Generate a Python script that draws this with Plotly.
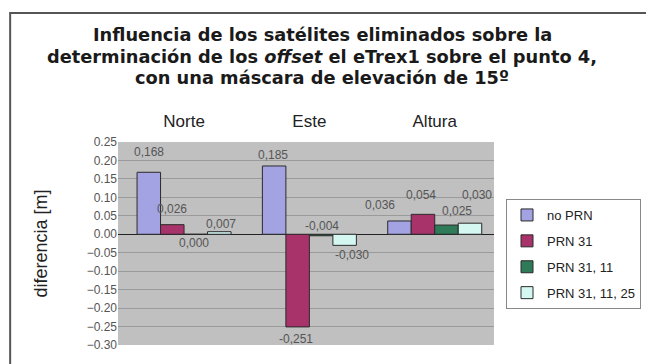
import plotly.graph_objects as go

categories = ["Norte", "Este", "Altura"]
series_names = ["no PRN", "PRN 31", "PRN 31, 11", "PRN 31, 11, 25"]
no_prn = [0.168, 0.185, 0.036]
prn31 = [0.026, -0.251, 0.054]
prn31_11 = [0.000, -0.004, 0.025]
prn31_11_25 = [0.007, -0.030, 0.030]
y_ticks = [0.25, 0.20, 0.15, 0.10, 0.05, 0.00, -0.05, -0.10, -0.15, -0.20, -0.25, -0.30]
title_lines = [
    "Influencia de los satélites eliminados sobre la",
    "determinación de los <i>offset</i> el eTrex1 sobre el punto 4,",
    "con una máscara de elevación de 15º",
]

series_values = [no_prn, prn31, prn31_11, prn31_11_25]
colors = ["#a3a3e3", "#a8336a", "#2f7a58", "#d4f7f2"]

# label placement styling (pixel offsets from bar end), per series x category
label_dx = [[0, -1, -19], [0, -2, -2], [-2, 1, 11], [2, 7, 7]]
label_dy = [[20, 11, 16], [16, -12, 19], [-9, 10, 14], [8, -10, 28]]

W, H = 646, 364
L, R, T, B = 118, 141, 142, 16
PW, PH = W - L - R, H - T - B
BARGAP = 0.25
NS = len(series_names)
BW = (1 - BARGAP) / NS


def px_x(x):
    return (x - L) / PW


def px_y(y):
    return (H - B - y) / PH


fig = go.Figure()
for i, (name, vals, col) in enumerate(zip(series_names, series_values, colors)):
    fig.add_trace(go.Bar(
        x=categories, y=vals, name=name, legendgroup=f"g{i}",
        marker=dict(color=col, line=dict(color="#2a2a2a", width=1)),
    ))
    for j, v in enumerate(vals):
        fig.add_annotation(
            x=j + (i - (NS - 1) / 2) * BW, y=v, xref="x", yref="y",
            text=f"{v:.3f}".replace(".", ","), showarrow=False,
            xanchor="center", yanchor="middle",
            xshift=label_dx[i][j], yshift=label_dy[i][j], borderpad=0,
            font=dict(family="Liberation Sans, Arial", size=12, color="#555555"),
        )

fig.update_layout(
    width=W, height=H,
    margin=dict(l=L, r=R, t=T, b=B),
    paper_bgcolor="white", plot_bgcolor="#c0c0c0",
    barmode="group", bargap=BARGAP, bargroupgap=0,
    font=dict(family="Liberation Sans, Arial", color="#222222"),
    xaxis=dict(side="top", showgrid=False, showline=False, ticks="",
               range=[-0.527, 2.473],
               ticklabelstandoff=11,
               tickfont=dict(size=17, color="#222222")),
    yaxis=dict(range=[-0.30, 0.25], tickvals=y_ticks, tickformat=".2f",
               showgrid=True, gridcolor="#9a9a9a", gridwidth=1,
               zeroline=True, zerolinecolor="#222222", zerolinewidth=1,
               tickfont=dict(size=12, color="#555555"),
               title=dict(text="diferencia [m]", font=dict(size=18, color="#222222"), standoff=34)),
    legend=dict(xref="container", yref="container", x=506 / W, y=1 - 199 / H,
                xanchor="left", yanchor="top",
                bordercolor="#888888", borderwidth=1, bgcolor="white",
                font=dict(size=13, color="#222222"), tracegroupgap=6,
                traceorder="grouped"),
    showlegend=True,
)

for k, (line, yc) in enumerate(zip(title_lines, [33, 55, 77])):
    fig.add_annotation(text=line, xref="paper", yref="paper",
                       x=px_x(328), y=px_y(yc), xanchor="center", yanchor="middle",
                       showarrow=False, borderpad=0,
                       font=dict(family="DejaVu Sans, Liberation Sans", size=17.8,
                                 color="#1a1a1a", weight="bold"))

fig.add_shape(type="rect", xref="paper", yref="paper",
              x0=px_x(7), x1=1.5, y0=-0.5, y1=px_y(11),
              line=dict(color="#555555", width=2), fillcolor="rgba(0,0,0,0)", layer="below")

fig.write_html("out.html")
